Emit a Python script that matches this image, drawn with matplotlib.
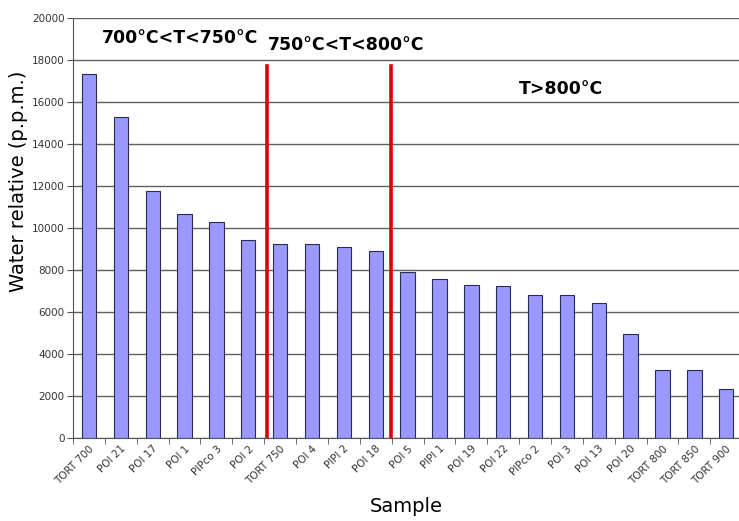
import numpy as np
import matplotlib.pyplot as plt

# data
samples = ['TORT 700', 'POI 21', 'POI 17', 'POI 1', 'PIPco 3', 'POI 2',
           'TORT 750', 'POI 4', 'PIPI 2', 'POI 18', 'POI 5', 'PIPI 1',
           'POI 19', 'POI 22', 'PIPco 2', 'POI 3', 'POI 13', 'POI 20',
           'TORT 800', 'TORT 850', 'TORT 900']
water = [17350, 15300, 11780, 10670, 10290, 9440,
         9220, 9220, 9110, 8890, 7900, 7570,
         7300, 7250, 6790, 6790, 6430, 4940,
         3250, 3250, 2330]
boundaries = [5.58, 9.47]          # red separators between temperature groups
boundary_top = 17700
ranges = ['700°C<T<750°C', '750°C<T<800°C', 'T>800°C']

fig = plt.figure(figsize=(7.39, 5.21), dpi=100)
ax = fig.add_axes([0.0988, 0.1593, 0.9012, 0.8062])

x = np.arange(len(samples))
ax.bar(x, water, width=0.45, color='#9999ff', edgecolor='#2a2a55',
       linewidth=0.8, zorder=3)

for b in boundaries:
    ax.plot([b, b], [0, boundary_top], color='#e00000', lw=2.6, zorder=4)

ax.set_ylim(0, 20000)
ax.set_xlim(-0.5, 20.4)
ax.set_yticks(np.arange(0, 20001, 2000))
ax.yaxis.grid(True, color='#606060', lw=1.0, zorder=0)
ax.set_axisbelow(True)

narrow = ['Liberation Sans Narrow', 'DejaVu Sans']
ax.set_yticklabels([str(v) for v in range(0, 20001, 2000)],
                   family=narrow, fontsize=7.5, color='#333333')
ax.set_xticks(x)
ax.set_xticklabels(samples, rotation=45, ha='right', rotation_mode='anchor',
                   family=narrow, fontsize=7.5, color='#333333')
ax.tick_params(axis='x', length=0, pad=4)
# category separator ticks on the bottom axis
ax.set_xticks(np.arange(-0.5, 20.5, 1.0), minor=True)
ax.tick_params(axis='x', which='minor', length=4, color='#555555', direction='out')
ax.tick_params(axis='y', length=4, color='#555555', direction='out', pad=2)

for s in ['top', 'right']:
    ax.spines[s].set_visible(False)
ax.spines['left'].set_color('#555555')
ax.spines['bottom'].set_color('#555555')

ax.set_ylabel('Water relative (p.p.m.)', fontsize=14)
ax.yaxis.set_label_coords(-0.068, 0.612)
ax.set_xlabel('Sample', fontsize=14, labelpad=8)

ax.text(0.4, 19050, ranges[0], fontsize=12.5, fontweight='bold', ha='left', va='center')
ax.text(5.6, 18700, ranges[1], fontsize=12.5, fontweight='bold', ha='left', va='center')
ax.text(13.5, 16600, ranges[2], fontsize=12.5, fontweight='bold', ha='left', va='center')

fig.savefig('out.png', dpi=100)
